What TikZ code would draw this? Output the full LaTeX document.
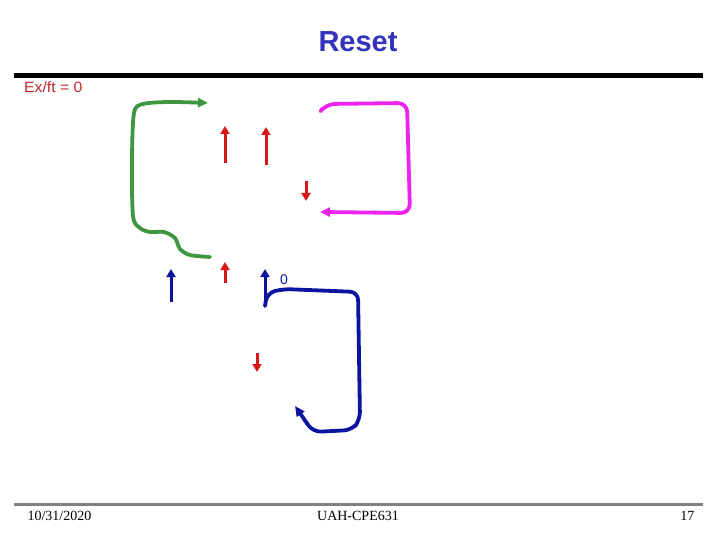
\documentclass[tikz,border=0pt]{standalone}
\usepackage{fontspec}
\setmainfont{Liberation Serif}
\newfontfamily\arialfont{Liberation Sans}
\usetikzlibrary{arrows.meta}
\definecolor{TitleBlue}{HTML}{3333BB}
\definecolor{LabelRed}{HTML}{C0282A}
\definecolor{PenGreen}{HTML}{3E9640}
\definecolor{PenPink}{HTML}{EE22EE}
\definecolor{PenRed}{HTML}{D81818}
\definecolor{PenBlue}{HTML}{0A149E}
\definecolor{RuleGray}{HTML}{808080}

\tikzset{
  pen/.style={line width=3.8pt, line cap=round, line join=round},
  smallup/.style={line width=3pt, -{Triangle[length=8pt,width=9pt]}},
  foot/.style={font=\fontsize{14}{16}\selectfont}
}

\begin{document}
\begin{tikzpicture}[x=1pt,y=-1pt]
  \useasboundingbox (0,0) rectangle (720,540);
  % header
  \node[font=\arialfont\bfseries\fontsize{29}{32}\selectfont, text=TitleBlue] (title) at (358,42) {Reset};
  \fill (14,73) rectangle (703,78);
  \node[anchor=west, inner sep=0pt, font=\arialfont\fontsize{15}{17}\selectfont, text=LabelRed, xscale=1.05] (exft) at (24,87) {Ex/ft = 0};
  % green stroke
  \draw[pen, PenGreen, -{Triangle[length=10pt,width=9pt]}] plot[smooth, tension=0.5] coordinates
    {(210,257) (190,255) (180,249) (175,238) (164,232) (150,232) (140,228) (133,216) (132,160) (134,113) (143,104) (170,102) (208,103)};
  % magenta stroke
  \draw[pen, PenPink, rounded corners=9pt, -{Triangle[length=10pt,width=9pt]}]
    (323,108) -- (326,104) -- (407,103) -- (410,213) -- (320,212);
  % red arrows
  \foreach \x/\ya/\yb in {225/163/126, 266/165/127, 306/181/201, 225/283/262, 257/353/372} {
    \draw[smallup, PenRed] (\x,\ya) -- (\x,\yb);
  }
  % blue arrows
  \foreach \x/\ya in {171/302, 265/300} {
    \draw[smallup, PenBlue] (\x,\ya) -- (\x,269);
  }
  \node[font=\arialfont\fontsize{14}{16}\selectfont, text=PenBlue, inner sep=0pt] (zero) at (284,280) {0};
  \draw[pen, PenBlue, rounded corners=8pt, -{Triangle[length=10pt,width=9pt]}]
    (265,306) -- (267,293) -- (283,289) -- (358,292) -- (360,420) -- (352,430) -- (313,432) -- (295,406);
  % footer
  \fill[RuleGray] (14,503) rectangle (703,506);
  \node[foot, anchor=west] (date) at (24,516) {10/31/2020};
  \node[foot] (course) at (358,516) {UAH-CPE631};
  \node[foot, anchor=east] (page) at (698,516) {17};
\end{tikzpicture}
\end{document}
